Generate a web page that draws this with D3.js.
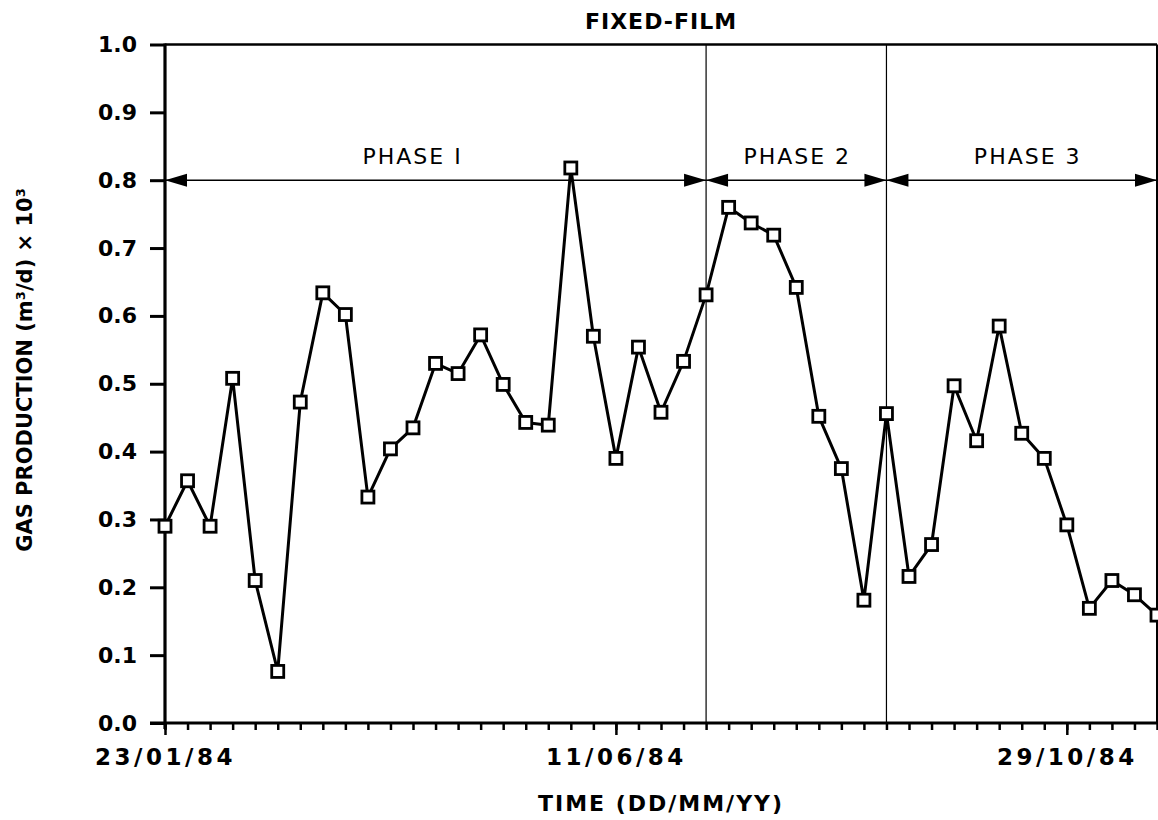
<!DOCTYPE html>
<html>
<head>
<meta charset="utf-8">
<script src="https://cdn.jsdelivr.net/npm/d3@7"></script>
<style>
  html, body { margin: 0; padding: 0; background: #fff; }
  svg { display: block; }
</style>
</head>
<body>
<svg id="chart" width="1158" height="820"></svg>
<script>
// Weekly sampling dates (DD/MM/YY)
const sampleDates = [
  "23/01/84","30/01/84","06/02/84","13/02/84","20/02/84","27/02/84","05/03/84","12/03/84",
  "19/03/84","26/03/84","02/04/84","09/04/84","16/04/84","23/04/84","30/04/84","07/05/84",
  "14/05/84","21/05/84","28/05/84","04/06/84","11/06/84","18/06/84","25/06/84","02/07/84",
  "09/07/84","16/07/84","23/07/84","30/07/84","06/08/84","13/08/84","20/08/84","27/08/84",
  "03/09/84","10/09/84","17/09/84","24/09/84","01/10/84","08/10/84","15/10/84","22/10/84",
  "29/10/84","05/11/84","12/11/84","19/11/84","26/11/84"
];

// Gas production, (m3/d) x 10^3
const gasProduction = [
  0.290, 0.357, 0.290, 0.508, 0.210, 0.076, 0.473, 0.634,
  0.602, 0.333, 0.404, 0.435, 0.530, 0.515, 0.572, 0.499,
  0.443, 0.439, 0.818, 0.570, 0.390, 0.554, 0.458, 0.533,
  0.631, 0.760, 0.737, 0.719, 0.642, 0.452, 0.375, 0.181,
  0.456, 0.216, 0.263, 0.497, 0.416, 0.585, 0.427, 0.390,
  0.292, 0.169, 0.210, 0.189, 0.159
];

// Operating phases
const phaseNames  = ["PHASE I", "PHASE 2", "PHASE 3"];
const phaseStarts = ["23/01/84", "09/07/84", "03/09/84"];
const phaseEnds   = ["09/07/84", "03/09/84", "26/11/84"];
const phaseArrowLevel = 0.8;

// Axis ticks
const timeDomain = ["23/01/84", "26/11/84"];
const timeTickLabels = ["23/01/84", "11/06/84", "29/10/84"];
const gasTicks = [0, 0.1, 0.2, 0.3, 0.4, 0.5, 0.6, 0.7, 0.8, 0.9, 1.0];

const parse = d3.utcParse("%d/%m/%y");
const fmt = d3.utcFormat("%d/%m/%y");

const plotL = 165, plotR = 1157, plotT = 44.5, plotB = 723;
const svg = d3.select("#chart");
const FONT = "'DejaVu Sans', 'Liberation Sans', sans-serif";

const x = d3.scaleUtc().domain(timeDomain.map(parse)).range([plotL, plotR]);
const y = d3.scaleLinear().domain([0, 1]).range([plotB, plotT]);

svg.append("rect").attr("width", 1158).attr("height", 820).attr("fill", "#fff");

// Phase divider lines
const g = svg.append("g");
g.selectAll("line.phase")
  .data(phaseStarts.slice(1))
  .join("line")
  .attr("class", "phase")
  .attr("x1", d => x(parse(d))).attr("x2", d => x(parse(d)))
  .attr("y1", plotT).attr("y2", plotB)
  .attr("stroke", "#000").attr("stroke-width", 1.2);

// Frame: top and right borders
g.append("line").attr("x1", plotL).attr("x2", plotR).attr("y1", plotT).attr("y2", plotT)
  .attr("stroke", "#000").attr("stroke-width", 2.5);
g.append("line").attr("x1", plotR).attr("x2", plotR).attr("y1", plotT).attr("y2", plotB)
  .attr("stroke", "#000").attr("stroke-width", 2);

// Y axis
const yAxis = svg.append("g")
  .attr("transform", `translate(${plotL},0)`)
  .call(d3.axisLeft(y).tickValues(gasTicks).tickFormat(d3.format(".1f")).tickSize(15).tickPadding(13));
yAxis.select(".domain").remove();
yAxis.selectAll(".tick line").attr("stroke", "#000").attr("stroke-width", 3);
yAxis.selectAll(".tick text")
  .attr("font-family", FONT).attr("font-weight", "bold").attr("font-size", 22)
  .attr("fill", "#000");
svg.append("line").attr("x1", plotL).attr("x2", plotL).attr("y1", plotT - 1).attr("y2", plotB + 6)
  .attr("stroke", "#000").attr("stroke-width", 3.2);

// X axis: weekly minor ticks
const xMinor = svg.append("g")
  .attr("transform", `translate(0,${plotB})`)
  .call(d3.axisBottom(x).ticks(d3.utcMonday.every(1)).tickFormat("").tickSize(7));
xMinor.select(".domain").remove();
xMinor.selectAll(".tick line").attr("stroke", "#000").attr("stroke-width", 2.5);

// X axis: labelled major ticks
const xMajor = svg.append("g")
  .attr("transform", `translate(0,${plotB})`)
  .call(d3.axisBottom(x).tickValues(timeTickLabels.map(parse)).tickFormat(fmt).tickSize(12).tickPadding(14));
xMajor.select(".domain").remove();
xMajor.selectAll(".tick line").attr("stroke", "#000").attr("stroke-width", 2.5);
xMajor.selectAll(".tick text")
  .attr("font-family", FONT).attr("font-weight", "bold").attr("font-size", 23)
  .attr("letter-spacing", 3.5).attr("fill", "#000");
svg.append("line").attr("x1", plotL - 15).attr("x2", plotR).attr("y1", plotB).attr("y2", plotB)
  .attr("stroke", "#000").attr("stroke-width", 3.2);

// Phase arrows
const arrowY = y(phaseArrowLevel);
const headLen = 22, headHalf = 6.5;
const phaseLabelDx = [-23, 1, 6];
phaseNames.forEach((name, i) => {
  const x0 = x(parse(phaseStarts[i])), x1 = x(parse(phaseEnds[i]));
  svg.append("line").attr("x1", x0).attr("x2", x1).attr("y1", arrowY).attr("y2", arrowY)
    .attr("stroke", "#000").attr("stroke-width", 1.5);
  svg.append("path")
    .attr("d", `M${x0},${arrowY} L${x0 + headLen},${arrowY - headHalf} L${x0 + headLen},${arrowY + headHalf} Z`)
    .attr("fill", "#000");
  svg.append("path")
    .attr("d", `M${x1},${arrowY} L${x1 - headLen},${arrowY - headHalf} L${x1 - headLen},${arrowY + headHalf} Z`)
    .attr("fill", "#000");
  svg.append("text")
    .attr("x", (x0 + x1) / 2 + phaseLabelDx[i]).attr("y", arrowY - 16)
    .attr("text-anchor", "middle")
    .attr("font-family", FONT).attr("font-size", 22).attr("letter-spacing", 2)
    .attr("fill", "#000").text(name);
});

// Series line and square markers
const points = sampleDates.map((d, i) => ({ date: parse(d), value: gasProduction[i] }));
svg.append("path")
  .datum(points)
  .attr("fill", "none").attr("stroke", "#000").attr("stroke-width", 3)
  .attr("stroke-linejoin", "round")
  .attr("d", d3.line().x(d => x(d.date)).y(d => y(d.value)));

const m = 12;
svg.selectAll("rect.marker")
  .data(points)
  .join("rect")
  .attr("class", "marker")
  .attr("x", d => x(d.date) - m / 2).attr("y", d => y(d.value) - m / 2)
  .attr("width", m).attr("height", m)
  .attr("fill", "#fff").attr("stroke", "#000").attr("stroke-width", 2.8);

// Titles
svg.append("text")
  .attr("x", (plotL + plotR) / 2).attr("y", 29)
  .attr("text-anchor", "middle")
  .attr("font-family", FONT).attr("font-weight", "bold").attr("font-size", 22)
  .attr("letter-spacing", 1).attr("fill", "#000").text("FIXED-FILM");

svg.append("text")
  .attr("x", (plotL + plotR) / 2).attr("y", 811)
  .attr("text-anchor", "middle")
  .attr("font-family", FONT).attr("font-weight", "bold").attr("font-size", 22)
  .attr("letter-spacing", 2).attr("fill", "#000").text("TIME (DD/MM/YY)");

svg.append("text")
  .attr("transform", `translate(32,${370}) rotate(-90)`)
  .attr("text-anchor", "middle")
  .attr("font-family", FONT).attr("font-weight", "bold").attr("font-size", 21)
  .attr("fill", "#000").text("GAS PRODUCTION (m³/d) × 10³");
</script>
</body>
</html>
